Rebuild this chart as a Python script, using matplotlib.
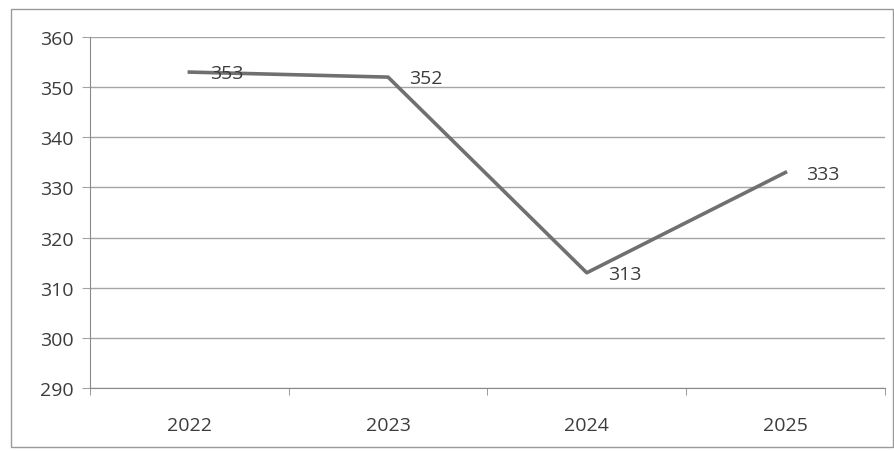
import matplotlib.pyplot as plt
from matplotlib.patches import Rectangle

years = ["2022", "2023", "2024", "2025"]
values = [353, 352, 313, 333]
y_ticks = [290, 300, 310, 320, 330, 340, 350, 360]

plt.rcParams['font.family'] = ['Open Sans', 'DejaVu Sans']

fig = plt.figure(figsize=(8.95, 4.52), dpi=100)
ax = fig.add_axes([0.1006, 0.139, 0.888, 0.777])

# outer chart border
fig.patches.append(Rectangle((0.012, 0.008), 0.986, 0.97, transform=fig.transFigure,
                             fill=False, edgecolor='#9a9a9a', linewidth=1.0))

x = list(range(len(years)))
ax.plot(x, values, color='#707070', linewidth=2.6, zorder=3)
for xi, v in zip(x, values):
    ax.annotate(str(v), (xi, v), xytext=(15, -1), textcoords='offset points',
                ha='left', va='center', fontsize=14, color='#3c3c3c')

ax.set_xlim(-0.5, len(years) - 0.5)
ax.set_ylim(290, 360)
ax.set_yticks(y_ticks)
ax.set_xticks(x)
ax.set_xticklabels(years)
ax.set_xticks([i - 0.5 for i in range(len(years) + 1)], minor=True)

ax.grid(axis='y', color='#a4a4a4', linewidth=1.0)
ax.set_axisbelow(True)
ax.tick_params(axis='x', which='major', length=0, pad=20, labelsize=14, labelcolor='#3c3c3c')
ax.tick_params(axis='x', which='minor', length=5, color='#8a8a8a')
ax.tick_params(axis='y', length=6, color='#a4a4a4', labelsize=14, labelcolor='#3c3c3c', pad=6)

for s in ['top', 'right']:
    ax.spines[s].set_visible(False)
ax.spines['left'].set_color('#8a8a8a')
ax.spines['bottom'].set_color('#8a8a8a')

fig.savefig('out.png', dpi=100)
